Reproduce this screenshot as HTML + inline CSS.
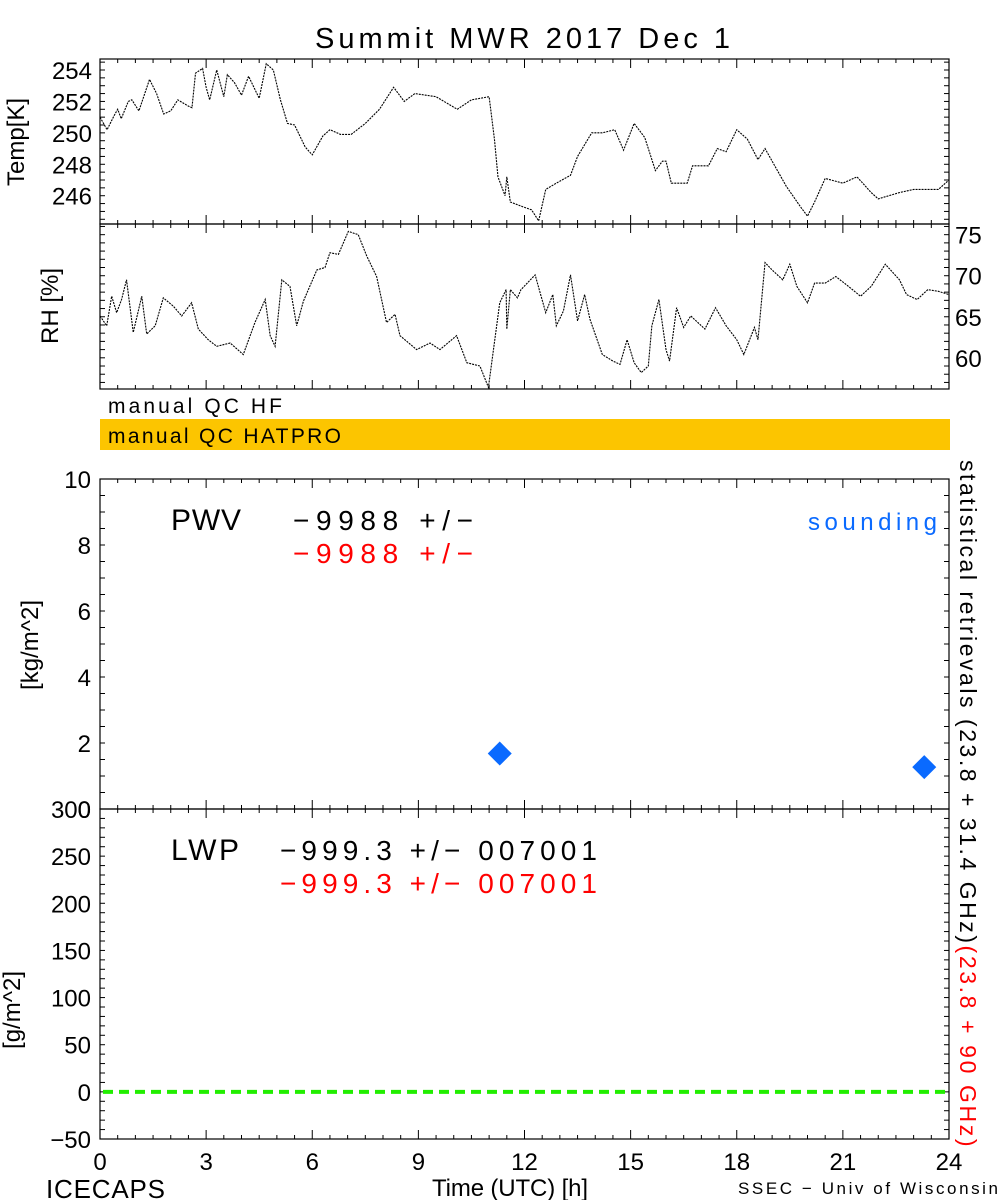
<!DOCTYPE html>
<html><head><meta charset="utf-8">
<style>
html,body{margin:0;padding:0;background:#fff;}
svg{display:block;font-family:"Liberation Sans",sans-serif;}
</style></head>
<body>
<svg id="chart" width="1000" height="1200" viewBox="0 0 1000 1200" xmlns="http://www.w3.org/2000/svg">
<text x="315" y="48" font-size="29" textLength="415" lengthAdjust="spacing">Summit MWR 2017 Dec  1</text>
<g id="g"></g>
</svg>
<script>
const tempHours=[0,0.2,0.4,0.5,0.6,0.8,0.9,1.1,1.4,1.6,1.8,2.0,2.2,2.5,2.6,2.7,2.9,3.0,3.1,3.3,3.5,3.6,3.8,4.0,4.2,4.5,4.7,4.9,5.1,5.3,5.5,5.8,6.0,6.3,6.5,6.8,7.1,7.5,7.9,8.3,8.6,8.9,9.5,10.1,10.5,11.0,11.15,11.25,11.45,11.5,11.6,11.95,12.2,12.4,12.6,12.9,13.3,13.5,13.9,14.2,14.55,14.8,15.1,15.4,15.7,15.9,16.0,16.15,16.6,16.75,17.2,17.45,17.7,18.0,18.3,18.6,18.8,19.1,19.4,19.8,20.0,20.2,20.5,21.0,21.4,21.8,22.0,22.6,23.0,23.7,24.0];
const tempValues=[251.0,250.2,251.1,251.5,250.9,252.0,252.1,251.4,253.4,252.5,251.2,251.4,252.1,251.7,251.6,253.8,254.1,252.9,252.1,254.0,252.3,253.7,253.2,252.4,253.6,252.2,254.4,254.0,252.1,250.6,250.5,249.1,248.6,249.8,250.2,249.9,249.9,250.6,251.5,252.9,252.0,252.5,252.3,251.5,252.1,252.3,249.6,247.2,246.0,247.2,245.6,245.3,245.1,244.4,246.4,246.8,247.3,248.5,250.0,250.0,250.2,248.9,250.6,249.7,247.6,248.2,248.2,246.8,246.8,247.9,247.9,249.0,248.8,250.2,249.6,248.3,249.0,247.8,246.6,245.3,244.7,245.6,247.1,246.8,247.2,246.2,245.8,246.2,246.4,246.4,247.0];
const rhHours=[0,0.19,0.33,0.47,0.61,0.75,0.94,1.18,1.32,1.56,1.79,2.07,2.31,2.59,2.78,3.06,3.3,3.68,4.05,4.38,4.67,4.81,4.95,5.14,5.37,5.56,5.75,6.13,6.36,6.5,6.74,7.02,7.3,7.54,7.82,8.1,8.34,8.48,8.95,9.33,9.61,10.08,10.37,10.74,10.98,11.3,11.48,11.5,11.6,11.8,11.9,12.3,12.6,12.8,12.9,13.1,13.3,13.5,13.7,13.85,14.2,14.5,14.7,14.9,15.1,15.3,15.5,15.6,15.8,16.0,16.1,16.3,16.5,16.7,17.1,17.4,17.7,18.0,18.2,18.5,18.6,18.8,19.0,19.3,19.5,19.7,20.0,20.2,20.5,20.8,21.1,21.5,21.8,22.2,22.6,22.8,23.1,23.4,23.7,24.0];
const rhValues=[65.1,63.9,67.5,65.5,67.1,69.5,63.1,67.5,62.9,63.9,67.3,66.3,65.1,66.7,63.5,62.2,61.4,61.8,60.4,64.3,67.1,62.7,61.4,69.5,68.7,63.9,66.9,70.7,71.0,72.8,72.6,75.4,75.0,72.4,69.9,64.3,65.3,62.7,61.0,61.8,61.0,62.7,59.4,59.0,56.4,66.7,68.3,63.5,68.3,67.3,68.3,70.1,65.5,67.7,63.9,65.7,70.1,64.5,67.7,64.7,60.4,59.6,59.2,62.2,59.4,58.2,59.0,63.9,67.1,61.0,59.6,66.1,63.7,65.1,63.5,66.1,63.9,62.2,60.4,63.7,62.2,71.6,70.7,69.5,71.4,68.7,66.7,69.1,69.1,69.9,68.9,67.5,68.7,71.4,69.5,67.7,67.1,68.3,68.1,67.7];
const soundingHours=[11.3,23.3];
const soundingPwv=[1.68,1.27];
const timeTicks=[0,3,6,9,12,15,18,21,24];
const tempTicks=[246,248,250,252,254];
const rhTicks=[60,65,70,75];
const pwvTicks=[0,2,4,6,8,10];
const lwpTicks=[-50,0,50,100,150,200,250,300];

const NS="http://www.w3.org/2000/svg";
const G=document.getElementById('g');
function mk(tag,attrs,parent){const e=document.createElementNS(NS,tag);for(const k in attrs)e.setAttribute(k,attrs[k]);(parent||G).appendChild(e);return e;}
const X0=100,X1=949;
const xs=h=>X0+(h/24)*(X1-X0);
const yT=v=>224-(v-244.2)/(254.7-244.2)*(224-59);
const yRH=v=>389-(v-56.2)/(76.3-56.2)*(389-224);
const yP=v=>809-(v/10)*(809-479);
const yL=v=>1139-((v+50)/350)*(1139-809);

function frame(top,bot,name){
  const r=mk('rect',{x:X0,y:top,width:X1-X0,height:bot-top,fill:'none',stroke:'#000','stroke-width':1.2});
  
  
  for(let h=0;h<=24;h+=0.5){
    const big=(h%3===0), len=big?9:4;
    mk('line',{x1:xs(h),x2:xs(h),y1:bot,y2:bot-len,stroke:'#000'});
    mk('line',{x1:xs(h),x2:xs(h),y1:top,y2:top+len,stroke:'#000'});
  }
}
function yticks(top,bot,minorStep,ymap,lo,hi){
  for(let v=lo;v<=hi+1e-9;v+=minorStep){
    const y=ymap(v); if(y<top-0.5||y>bot+0.5)continue;
    mk('line',{x1:X0,x2:X0+5,y1:y,y2:y,stroke:'#000'});
    mk('line',{x1:X1,x2:X1-5,y1:y,y2:y,stroke:'#000'});
  }
}
// Temp panel
frame(59,224,'temp-panel');
yticks(59,224,0.5,yT,244,255);
tempTicks.forEach(v=>{const t=mk('text',{x:92,y:yT(v)+9,'font-size':24,'text-anchor':'end'});t.textContent=v;

});
{const t=mk('text',{x:0,y:0,'font-size':24,'text-anchor':'middle',transform:'translate(24,142) rotate(-90)'});t.textContent='Temp[K]';

}
{const p=mk('polyline',{points:tempHours.map((h,i)=>xs(h)+','+yT(tempValues[i])).join(' '),fill:'none',stroke:'#000','stroke-width':1.1,'stroke-dasharray':'2 1'});

}
// RH panel
frame(224,389,'rh-panel');
yticks(224,389,1,yRH,56,77);
rhTicks.forEach(v=>{const t=mk('text',{x:955,y:yRH(v)+9,'font-size':24});t.textContent=v;

});
{const t=mk('text',{x:0,y:0,'font-size':24,'text-anchor':'middle',transform:'translate(58,306) rotate(-90)'});t.textContent='RH [%]';

}
{const p=mk('polyline',{points:rhHours.map((h,i)=>xs(h)+','+yRH(rhValues[i])).join(' '),fill:'none',stroke:'#000','stroke-width':1.1,'stroke-dasharray':'2 1'});

}
// QC bars
{const t=mk('text',{x:108,y:413,'font-size':21,textLength:174,lengthAdjust:'spacing'});t.textContent='manual QC HF';

}
{const r=mk('rect',{x:X0,y:419,width:X1-X0+1,height:31,fill:'#fcc500'});

}
{const t=mk('text',{x:108,y:443,'font-size':21,textLength:233,lengthAdjust:'spacing'});t.textContent='manual QC HATPRO';

}
// PWV panel
frame(479,809,'pwv-panel');
yticks(479,809,0.5,yP,0,10);
pwvTicks.forEach(v=>{const t=mk('text',{x:91,y:yP(v)+9,'font-size':24,'text-anchor':'end'});t.textContent=v;

});
{const t=mk('text',{x:0,y:0,'font-size':24,'text-anchor':'middle',transform:'translate(38,645) rotate(-90)'});t.textContent='[kg/m^2]';

}
{const t=mk('text',{x:171,y:530,'font-size':30,textLength:70,lengthAdjust:'spacing'});t.textContent='PWV';

}
{const t=mk('text',{x:293,y:530,'font-size':28,textLength:180,lengthAdjust:'spacing'});t.textContent='\u22129988 +/\u2212';

}
{const t=mk('text',{x:293,y:563,'font-size':28,fill:'#f00',textLength:180,lengthAdjust:'spacing'});t.textContent='\u22129988 +/\u2212';

}
{const t=mk('text',{x:808,y:530,'font-size':24,fill:'#0a6aff',textLength:129,lengthAdjust:'spacing'});t.textContent='sounding';

}
soundingHours.forEach((h,i)=>{const cx=xs(h),cy=yP(soundingPwv[i]);
const d=mk('polygon',{points:`${cx-12},${cy} ${cx},${cy-12} ${cx+12},${cy} ${cx},${cy+12}`,fill:'#0a6aff'});

});
// LWP panel
frame(809,1139,'lwp-panel');
yticks(809,1139,10,yL,-50,300);
lwpTicks.forEach(v=>{const t=mk('text',{x:91,y:yL(v)+9,'font-size':24,'text-anchor':'end'});t.textContent=(v<0?'\u2212'+(-v):v);

});
{const t=mk('text',{x:0,y:0,'font-size':24,'text-anchor':'middle',transform:'translate(20,1010) rotate(-90)'});t.textContent='[g/m^2]';

}
{const t=mk('text',{x:171,y:860,'font-size':30,textLength:68,lengthAdjust:'spacing'});t.textContent='LWP';

}
{const t=mk('text',{x:280,y:860,'font-size':28,textLength:317,lengthAdjust:'spacing'});t.textContent='\u2212999.3 +/\u2212 007001';

}
{const t=mk('text',{x:280,y:893,'font-size':28,fill:'#f00',textLength:317,lengthAdjust:'spacing'});t.textContent='\u2212999.3 +/\u2212 007001';

}
{const l=mk('line',{x1:X0+3,x2:X1,y1:yL(0),y2:yL(0),stroke:'#22ee00','stroke-width':4,'stroke-dasharray':'10 6'});

}
// x axis
timeTicks.forEach(h=>{const t=mk('text',{x:xs(h),y:1170,'font-size':24,'text-anchor':'middle'});t.textContent=h;

});
{const t=mk('text',{x:432,y:1196,'font-size':24,textLength:156,lengthAdjust:'spacing'});t.textContent='Time (UTC) [h]';

}
{const t=mk('text',{x:46,y:1198,'font-size':26,textLength:119,lengthAdjust:'spacing'});t.textContent='ICECAPS';

}
{const t=mk('text',{x:738,y:1194,'font-size':17,textLength:260,lengthAdjust:'spacing'});t.textContent='SSEC \u2212 Univ of Wisconsin';

}
// right rotated label
{const t=mk('text',{x:0,y:0,'font-size':23,transform:'translate(960,460) rotate(90)'});


const a=mk('tspan',{textLength:483,lengthAdjust:'spacing'},t);a.textContent='statistical retrievals (23.8 + 31.4 GHz)';
const b=mk('tspan',{fill:'#f00',textLength:201,lengthAdjust:'spacing'},t);b.textContent='(23.8 + 90 GHz)';}
</script>
</body></html>
